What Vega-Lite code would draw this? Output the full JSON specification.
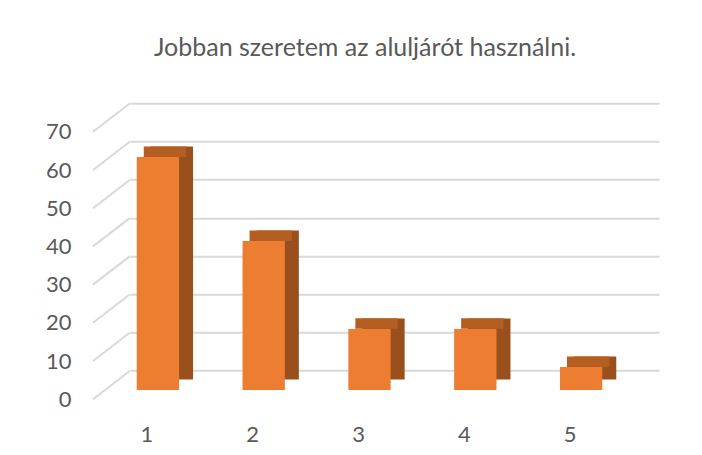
{
  "$schema": "https://vega.github.io/schema/vega-lite/v6.json",
  "width": 529,
  "height": 267.4,
  "padding": {"left": 130, "top": 103.3, "right": 43, "bottom": 84.3},
  "autosize": {"type": "none"},
  "background": "white",
  "config": {"view": {"stroke": null}},
  "title": {
    "text": "Jobban szeretem az aluljárót használni.",
    "font": "Lato",
    "fontSize": 25,
    "fontWeight": "normal",
    "color": "#595959",
    "offset": 41,
    "dx": -29.5,
    "anchor": "middle"
  },
  "datasets": {
    "valaszok": [
      {"kategoria": "1", "ertek": 61},
      {"kategoria": "2", "ertek": 39},
      {"kategoria": "3", "ertek": 16},
      {"kategoria": "4", "ertek": 16},
      {"kategoria": "5", "ertek": 6}
    ],
    "racsvonalak": [
      {"racs": 0}, {"racs": 10}, {"racs": 20}, {"racs": 30},
      {"racs": 40}, {"racs": 50}, {"racs": 60}, {"racs": 70}
    ]
  },
  "data": {"name": "valaszok"},
  "encoding": {
    "x": {
      "field": "kategoria",
      "type": "nominal",
      "sort": null,
      "scale": {"paddingInner": 0.6, "paddingOuter": 0.3},
      "axis": {
        "title": null,
        "domain": false,
        "ticks": false,
        "tickSize": 0,
        "grid": false,
        "labelAngle": 0,
        "labelPadding": 54,
        "labelOffset": -36,
        "labelFont": "Lato",
        "labelFontSize": 22,
        "labelColor": "#595959"
      }
    },
    "y": {
      "field": "ertek",
      "type": "quantitative",
      "scale": {"domain": [0, 70], "nice": false},
      "axis": {
        "title": null,
        "domain": false,
        "ticks": false,
        "tickSize": 0,
        "values": [0, 10, 20, 30, 40, 50, 60, 70],
        "labelPadding": 59,
        "labelOffset": 28.5,
        "labelFont": "Lato",
        "labelFontSize": 22,
        "labelColor": "#595959",
        "grid": true,
        "gridColor": "#D9D9D9",
        "gridWidth": 2
      }
    }
  },
  "layer": [
    {
      "data": {"name": "racsvonalak"},
      "mark": {"type": "rule", "color": "#D9D9D9", "strokeWidth": 2, "x2Offset": -37, "y2Offset": 28.5},
      "encoding": {
        "x": {"datum": "1", "type": "nominal", "bandPosition": -0.75},
        "x2": {"datum": "1", "bandPosition": -0.75},
        "y": {"field": "racs", "type": "quantitative"},
        "y2": {"field": "racs"}
      }
    },
    {"mark": {"type": "bar", "color": "#9A501D", "opacity": 1, "xOffset": -11, "x2Offset": -11, "yOffset": 8.8, "y2Offset": 8.8}},
    {"mark": {"type": "tick", "color": "#B45E22", "opacity": 1, "thickness": 10.5, "size": 42.3, "xOffset": -18, "yOffset": 14}},
    {"mark": {"type": "bar", "color": "#ED7D31", "opacity": 1, "xOffset": -25, "x2Offset": -25, "yOffset": 19.3, "y2Offset": 19.3}}
  ]
}
